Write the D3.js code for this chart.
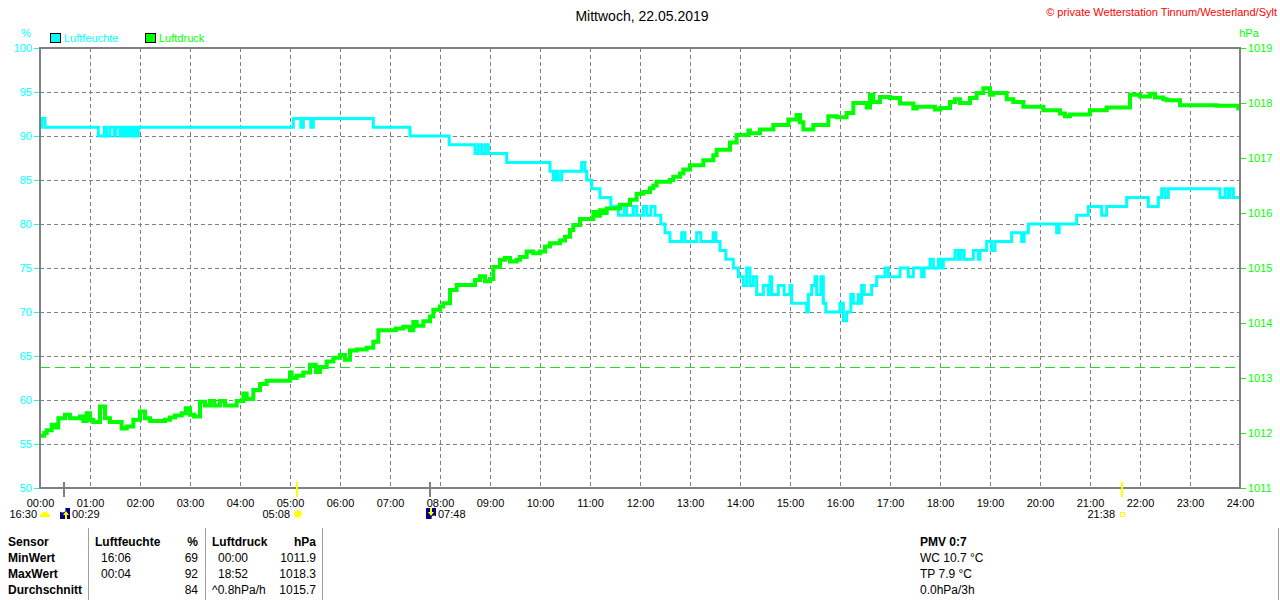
<!DOCTYPE html>
<html>
<head>
<meta charset="utf-8">
<script src="https://cdn.jsdelivr.net/npm/d3@7"></script>
<style>
  body { margin: 0; background: #fff; }
  svg { display: block; font-family: "Liberation Sans", Arial, sans-serif; }
</style>
</head>
<body>
<svg id="chart" width="1280" height="600"></svg>
<script>
// Luftfeuchte (%), step values
const humTimes = ["00:00","00:02","00:06","01:10","01:17","01:20","01:24","01:29","01:31","01:36","01:38","01:41","01:43","01:46","01:48","01:50","01:53","01:55","01:58","05:04","05:13","05:16","05:25","05:28","06:40","07:24","08:11","08:42","08:46","08:50","08:54","08:58","09:20","10:12","10:16","10:19","10:22","10:26","10:50","10:54","10:56","11:02","11:12","11:25","11:34","11:41","11:44","11:52","11:56","12:04","12:08","12:13","12:18","12:25","12:30","12:36","12:50","12:54","13:08","13:13","13:28","13:31","13:36","13:43","13:52","13:58","14:04","14:08","14:12","14:16","14:20","14:28","14:34","14:36","14:38","14:46","14:53","15:00","15:02","15:20","15:22","15:26","15:30","15:32","15:37","15:40","15:43","16:00","16:04","16:08","16:13","16:16","16:22","16:24","16:26","16:29","16:38","16:44","16:54","16:58","17:12","17:22","17:28","17:38","17:41","17:48","17:52","17:58","18:01","18:04","18:18","18:22","18:25","18:29","18:40","18:46","18:48","18:56","19:02","19:06","19:26","19:38","19:41","19:46","20:20","20:23","20:44","20:58","21:14","21:20","21:44","22:10","22:22","22:26","22:30","22:34","23:36","23:42","23:46","23:48","23:52","24:00"];
const humValues = [91,92,91,90,91,90,91,90,91,90,91,90,91,90,91,90,91,90,91,92,91,92,91,92,91,90,89,88,89,88,89,88,87,86,85,86,85,86,87,86,85,84,83,82,81,82,81,82,81,82,81,82,81,80,79,78,79,78,79,78,79,78,77,76,75,74,73,75,73,74,72,73,72,74,72,73,72,73,71,70,72,73,74,72,74,71,70,71,69,70,72,71,72,71,73,72,73,74,75,74,75,74,75,74,75,76,75,76,75,76,77,76,77,76,77,76,77,78,77,78,79,78,79,80,79,80,81,82,81,82,83,82,83,84,83,84,83,84,83,84,83,83];

// Luftdruck (hPa)
const pressTimes = ["00:00","00:05","00:08","00:14","00:18","00:22","00:30","00:36","00:48","00:52","00:56","01:00","01:04","01:12","01:18","01:24","01:38","01:44","01:52","02:00","02:06","02:12","02:30","02:36","02:42","02:50","02:55","03:00","03:05","03:12","03:18","03:24","03:29","03:36","03:42","03:56","04:04","04:08","04:16","04:24","04:32","05:00","05:02","05:08","05:16","05:24","05:31","05:36","05:44","05:52","06:00","06:06","06:12","06:20","06:32","06:40","06:46","07:07","07:16","07:24","07:28","07:32","07:40","07:48","07:52","08:00","08:04","08:12","08:20","08:42","08:48","08:54","09:00","09:04","09:12","09:18","09:24","09:32","09:36","09:44","09:52","10:00","10:06","10:12","10:24","10:30","10:36","10:40","10:48","11:04","11:08","11:12","11:16","11:20","11:36","11:48","11:56","12:04","12:12","12:16","12:20","12:36","12:40","12:48","12:52","13:00","13:16","13:28","13:32","13:48","13:56","14:10","14:12","14:24","14:40","14:58","15:08","15:12","15:16","15:28","15:46","15:56","16:08","16:16","16:32","16:36","16:40","16:48","17:00","17:12","17:28","17:32","17:54","18:00","18:12","18:18","18:24","18:36","18:44","18:52","19:00","19:04","19:20","19:28","19:40","20:04","20:24","20:30","20:36","21:00","21:20","21:48","22:00","22:12","22:18","22:28","22:32","22:48","23:32","23:58","24:00"];
const pressValues = [1011.95,1012.00,1012.05,1012.15,1012.10,1012.27,1012.33,1012.27,1012.30,1012.22,1012.36,1012.24,1012.20,1012.48,1012.27,1012.20,1012.08,1012.12,1012.24,1012.39,1012.27,1012.22,1012.24,1012.28,1012.32,1012.36,1012.45,1012.33,1012.30,1012.57,1012.50,1012.58,1012.50,1012.58,1012.50,1012.58,1012.72,1012.62,1012.78,1012.89,1012.95,1013.10,1013.00,1013.04,1013.10,1013.24,1013.11,1013.20,1013.30,1013.37,1013.42,1013.33,1013.50,1013.52,1013.55,1013.66,1013.87,1013.90,1013.93,1013.87,1014.02,1013.95,1014.03,1014.12,1014.24,1014.30,1014.36,1014.60,1014.69,1014.78,1014.85,1014.76,1014.80,1015.02,1015.15,1015.18,1015.12,1015.15,1015.20,1015.30,1015.27,1015.30,1015.39,1015.45,1015.50,1015.57,1015.69,1015.78,1015.89,1016.02,1015.95,1016.05,1016.00,1016.08,1016.15,1016.24,1016.35,1016.38,1016.45,1016.50,1016.57,1016.60,1016.66,1016.72,1016.79,1016.87,1016.96,1017.05,1017.15,1017.28,1017.42,1017.50,1017.45,1017.52,1017.60,1017.70,1017.78,1017.65,1017.52,1017.60,1017.76,1017.74,1017.82,1018.00,1017.92,1018.15,1018.02,1018.11,1018.09,1017.99,1017.90,1017.93,1017.88,1017.91,1018.02,1018.07,1018.00,1018.09,1018.18,1018.27,1018.15,1018.18,1018.07,1018.02,1017.93,1017.87,1017.81,1017.76,1017.79,1017.87,1017.92,1018.15,1018.12,1018.17,1018.10,1018.07,1018.05,1017.96,1017.95,1017.90,1017.90];
const refPressure = 1013.2;

// Axis ticks
const humTicks = [50, 55, 60, 65, 70, 75, 80, 85, 90, 95, 100];
const pressTicks = [1011, 1012, 1013, 1014, 1015, 1016, 1017, 1018, 1019];
const hourTicks = [0,1,2,3,4,5,6,7,8,9,10,11,12,13,14,15,16,17,18,19,20,21,22,23,24];
const hourLabels = ["00:00","01:00","02:00","03:00","04:00","05:00","06:00","07:00","08:00","09:00","10:00","11:00","12:00","13:00","14:00","15:00","16:00","17:00","18:00","19:00","20:00","21:00","22:00","23:00","24:00"];

// Sonne / Mond
const astroTimes = ["00:29", "05:08", "07:48", "21:38"];
const astroKinds = ["moonrise", "sunrise", "moonset", "sunset"];
const dayLength = "16:30";

// Tabelle
const tableRows = ["Sensor", "MinWert", "MaxWert", "Durchschnitt"];
const humTable = [["Luftfeuchte", "%"], ["16:06", "69"], ["00:04", "92"], ["", "84"]];
const pressTable = [["Luftdruck", "hPa"], ["00:00", "1011.9"], ["18:52", "1018.3"], ["^0.8hPa/h", "1015.7"]];
const extraInfo = ["PMV 0:7", "WC 10.7 °C", "TP 7.9 °C", "0.0hPa/3h"];

const title = "Mittwoch, 22.05.2019";
const copyright = "© private Wetterstation Tinnum/Westerland/Sylt";

const CYAN = "#00ffff", GREEN = "#00ff00", GRID = "#808080";

const toHours = s => { const [h, m] = s.split(":").map(Number); return h + m / 60; };

const svg = d3.select("#chart");
const plotL = 40, plotR = 1240, plotT = 48, plotB = 488;

const x = d3.scaleLinear().domain([0, 24]).range([plotL, plotR]);
const yHum = d3.scaleLinear().domain([50, 100]).range([plotB, plotT]);
const yPress = d3.scaleLinear().domain([1011, 1019]).range([plotB, plotT]);

const humData = humTimes.map((t, i) => ({ t: toHours(t), v: humValues[i] }));
const pressData = pressTimes.map((t, i) => ({ t: toHours(t), v: pressValues[i] }));

// Titles
svg.append("text")
    .attr("x", 642).attr("y", 21)
    .attr("text-anchor", "middle")
    .style("font-size", "14px")
    .text(title);

svg.append("text")
    .attr("x", 1277).attr("y", 16)
    .attr("text-anchor", "end")
    .attr("fill", "#ff0000")
    .style("font-size", "11px")
    .text(copyright);

svg.append("text").attr("x", 26).attr("y", 37).attr("text-anchor", "middle")
    .attr("fill", CYAN).style("font-size", "11px").text("%");
svg.append("text").attr("x", 1249).attr("y", 37).attr("text-anchor", "middle")
    .attr("fill", GREEN).style("font-size", "11px").text("hPa");

// Legend
const legend = [["Luftfeuchte", CYAN, 50], ["Luftdruck", GREEN, 145]];
legend.forEach(([name, col, lx]) => {
  svg.append("rect").attr("x", lx + 0.5).attr("y", 33.5).attr("width", 10).attr("height", 9)
      .attr("fill", col).attr("stroke", "#000");
  svg.append("text").attr("x", lx + 14).attr("y", 42)
      .attr("fill", col).style("font-size", "11px").text(name);
});

// Grid
const grid = svg.append("g")
    .attr("stroke", GRID)
    .attr("stroke-width", 1)
    .attr("stroke-dasharray", "4,3");
grid.selectAll(".vg")
  .data(hourTicks.slice(1, -1))
  .join("line")
    .attr("x1", d => Math.round(x(d)) + 0.5).attr("x2", d => Math.round(x(d)) + 0.5)
    .attr("y1", plotT).attr("y2", plotB);
grid.selectAll(".hg")
  .data(humTicks.slice(1, -1))
  .join("line")
    .attr("x1", plotL).attr("x2", plotR)
    .attr("y1", d => Math.round(yHum(d)) + 0.5).attr("y2", d => Math.round(yHum(d)) + 0.5);

// Reference pressure
svg.append("line")
    .attr("x1", plotL).attr("x2", plotR)
    .attr("y1", Math.round(yPress(refPressure)) + 0.5).attr("y2", Math.round(yPress(refPressure)) + 0.5)
    .attr("stroke", "#22dd22").attr("stroke-width", 1)
    .attr("stroke-dasharray", "10,5");

// Lines
svg.append("clipPath").attr("id", "plot")
  .append("rect").attr("x", plotL).attr("y", plotT).attr("width", plotR - plotL).attr("height", plotB - plotT);

const humLine = d3.line().x(d => x(d.t)).y(d => yHum(d.v)).curve(d3.curveStepAfter);
const pressLine = d3.line().x(d => x(d.t)).y(d => yPress(d.v)).curve(d3.curveStepAfter);

svg.append("path")
    .datum(humData)
    .attr("clip-path", "url(#plot)")
    .attr("fill", "none")
    .attr("stroke", CYAN)
    .attr("stroke-width", 3)
    .attr("d", humLine);

svg.append("path")
    .datum(pressData)
    .attr("clip-path", "url(#plot)")
    .attr("fill", "none")
    .attr("stroke", GREEN)
    .attr("stroke-width", 4)
    .attr("d", pressLine);

// Frame
svg.append("rect")
    .attr("x", plotL).attr("y", plotT)
    .attr("width", plotR - plotL).attr("height", plotB - plotT)
    .attr("fill", "none").attr("stroke", GRID).attr("stroke-width", 2);

// Axes
const axisStyle = (g, col) => {
  g.select(".domain").remove();
  g.selectAll(".tick line").attr("stroke", col);
  g.selectAll(".tick text").attr("fill", col).style("font-size", "11px")
      .style("font-family", "'Liberation Sans', Arial, sans-serif");
};

svg.append("g")
    .attr("transform", `translate(${plotL - 1},0)`)
    .call(d3.axisLeft(yHum).tickValues(humTicks).tickSize(5).tickPadding(2))
    .call(g => axisStyle(g, CYAN));

svg.append("g")
    .attr("transform", `translate(${plotR + 1},0)`)
    .call(d3.axisRight(yPress).tickValues(pressTicks).tickSize(5).tickPadding(2)
      .tickFormat(d3.format("d")))
    .call(g => axisStyle(g, GREEN));

svg.append("g")
    .attr("transform", `translate(0,${plotB})`)
    .call(d3.axisBottom(x).tickValues(hourTicks).tickSize(0).tickPadding(11)
      .tickFormat((d, i) => hourLabels[i]))
    .call(g => axisStyle(g, "#000"));

// Sun & moon markers
const astro = svg.append("g");
astroTimes.forEach((t, i) => {
  const kind = astroKinds[i];
  const ax = Math.round(x(toHours(t)));
  const isSun = kind.startsWith("sun");
  astro.append("line")
      .attr("x1", ax).attr("x2", ax).attr("y1", 482).attr("y2", 497)
      .attr("stroke", isSun ? "#ffff00" : GRID).attr("stroke-width", 2);

  if (isSun) {
    astro.append("text").attr("x", ax - 7).attr("y", 518).attr("text-anchor", "end")
        .style("font-size", "11px").text(t);
    if (kind === "sunrise") {
      const c = astro.append("g").attr("transform", `translate(${ax + 1},514)`);
      d3.range(8).forEach(k => {
        const a = k * Math.PI / 4;
        c.append("line").attr("x1", 0).attr("y1", 0)
            .attr("x2", 5.5 * Math.cos(a)).attr("y2", 5.5 * Math.sin(a))
            .attr("stroke", "#ffff99").attr("stroke-width", 1);
      });
      c.append("circle").attr("r", 3.5).attr("fill", "#ffff00");
    } else {
      astro.append("rect").attr("x", ax - 1.5).attr("y", 512.5).attr("width", 4).attr("height", 4)
          .attr("fill", "none").attr("stroke", "#ffff00");
    }
  } else {
    astro.append("text").attr("x", ax + 8).attr("y", 518)
        .style("font-size", "11px").text(t);
    const m = astro.append("g").attr("transform", `translate(${ax - 4},508)`);
    m.append("rect").attr("width", 10).attr("height", 11).attr("fill", "#000080");
    if (kind === "moonrise") {
      m.append("circle").attr("cx", 2.5).attr("cy", 1.5).attr("r", 3).attr("fill", "#fff");
      m.append("path").attr("d", "M6,3 L9,7 L7,7 L7,11 L5,11 L5,7 L3,7 Z").attr("fill", "#ffff00");
    } else {
      m.append("circle").attr("cx", 8).attr("cy", 10).attr("r", 2.5).attr("fill", "#fff");
      m.append("path").attr("d", "M4,0 L6,0 L6,4 L8,4 L5,8 L2,4 L4,4 Z").attr("fill", "#ffff00");
    }
  }
});

svg.append("text").attr("x", 37).attr("y", 518).attr("text-anchor", "end")
    .style("font-size", "11px").text(dayLength);
svg.append("path")
    .attr("d", "M40,517 A5,5 0 0 1 50,517 Z")
    .attr("fill", "#ffff00");

// Table
const table = svg.append("g").style("font-size", "12px");
const rowY = i => 546 + i * 16;

table.selectAll(".rl")
  .data(tableRows)
  .join("text")
    .attr("x", 8).attr("y", (d, i) => rowY(i))
    .style("font-weight", "bold")
    .text(d => d);

const drawCols = (rows, x1, x2) => {
  rows.forEach((r, i) => {
    table.append("text").attr("x", i === 0 ? x1 : x1 + (r[0].startsWith("^") ? 0 : 6)).attr("y", rowY(i))
        .style("font-weight", i === 0 ? "bold" : "normal").text(r[0]);
    table.append("text").attr("x", x2).attr("y", rowY(i)).attr("text-anchor", "end")
        .style("font-weight", i === 0 ? "bold" : "normal").text(r[1]);
  });
};
drawCols(humTable, 95, 198);
drawCols(pressTable, 212, 316);

table.selectAll(".ex")
  .data(extraInfo)
  .join("text")
    .attr("x", 920).attr("y", (d, i) => rowY(i))
    .style("font-weight", (d, i) => i === 0 ? "bold" : "normal")
    .text(d => d);

[88.5, 205.5, 322.5, 1278.5].forEach(sx => {
  svg.append("line").attr("x1", sx).attr("x2", sx).attr("y1", 528).attr("y2", 600)
      .attr("stroke", "#a0a0a0");
});
</script>
</body>
</html>
